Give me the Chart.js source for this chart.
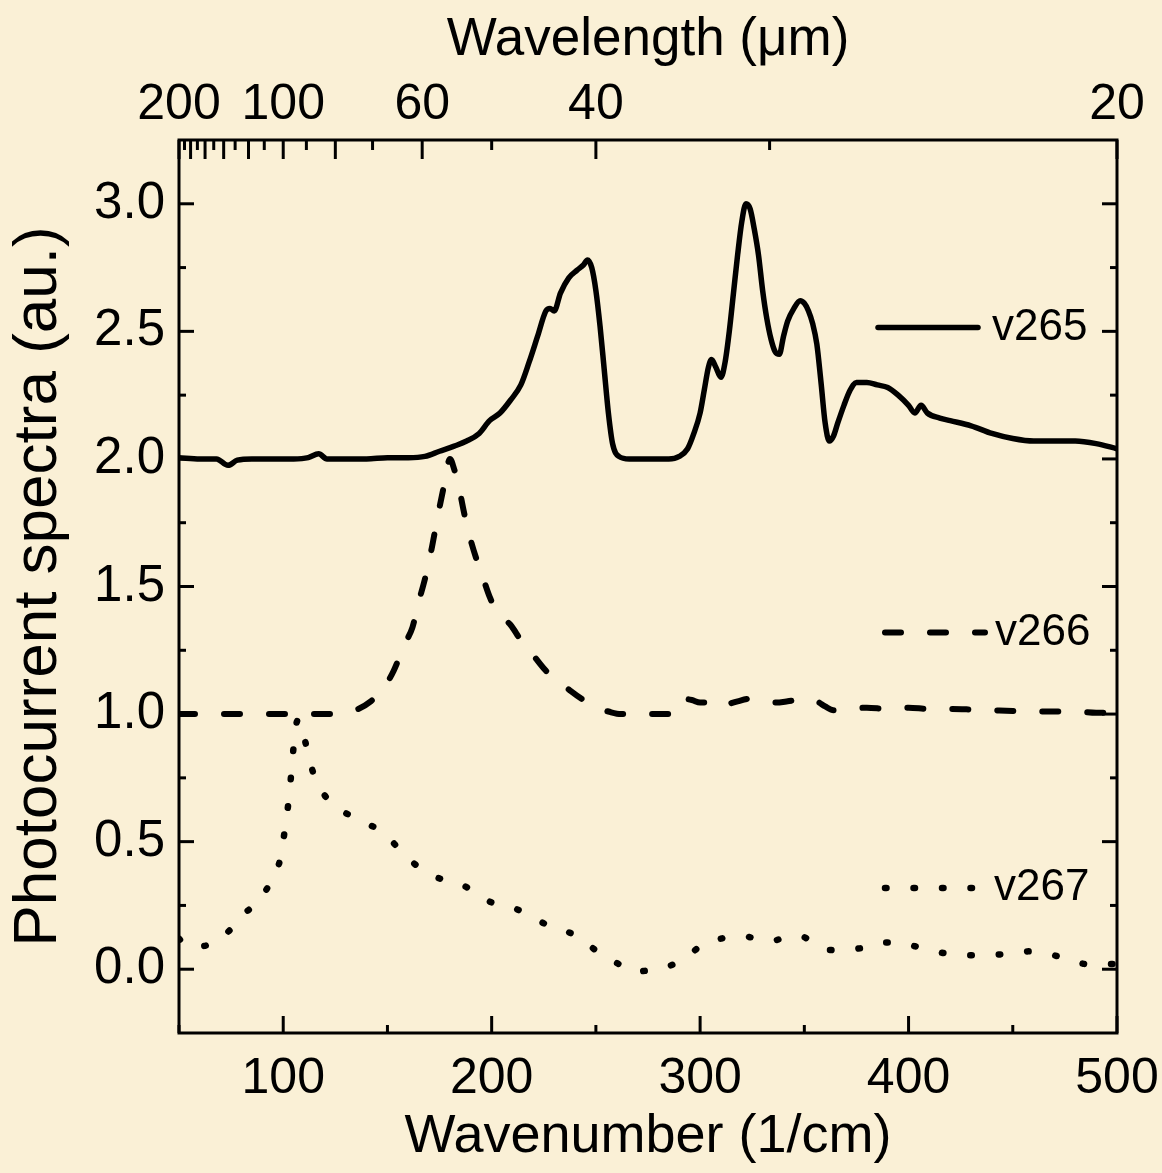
<!DOCTYPE html>
<html><head><meta charset="utf-8">
<script src="https://cdn.jsdelivr.net/npm/chart.js@4.4.1/dist/chart.umd.min.js"></script>
<style>
html,body{margin:0;padding:0;background:#FAF0D6;}
canvas{display:block;}
</style></head>
<body>
<canvas id="c" width="1162" height="1173"></canvas>
<script>
// ---------- data ----------
const wn265 = [50,60,68,73.5,78,85,95,105,112,117,121,130,140,150,160,168,175,182,188,194,199,204,209,214,218,222,226,228,230,233,237,241,244,246,248,250,252,254,256,258,261,266,275,285,290,294,297,300,302,304,305.5,307.5,310,312,314,316,318,320,322,324,326,328,330,332,334,336,338,340,342,345,348,350,352,354,356,358,360,362,364,366,369,372,375,380,385,390,395,400,403,406,409,415,420,430,440,450,460,470,480,490,500];
const v265  = [2.005,2.0,2.0,1.975,1.995,2.0,2.0,2.0,2.005,2.02,2.0,2.0,2.0,2.005,2.005,2.01,2.03,2.05,2.07,2.10,2.15,2.18,2.23,2.29,2.38,2.48,2.58,2.59,2.58,2.65,2.71,2.74,2.76,2.78,2.75,2.66,2.52,2.35,2.18,2.06,2.01,2.0,2.0,2.0,2.01,2.04,2.10,2.18,2.27,2.36,2.39,2.36,2.32,2.38,2.5,2.65,2.8,2.93,3.0,2.98,2.9,2.8,2.66,2.55,2.47,2.42,2.41,2.48,2.54,2.59,2.62,2.61,2.58,2.53,2.45,2.3,2.14,2.07,2.09,2.14,2.21,2.27,2.30,2.30,2.29,2.28,2.25,2.21,2.18,2.21,2.18,2.16,2.15,2.13,2.10,2.08,2.07,2.07,2.07,2.06,2.04];

const wn266 = [50,60,70,80,90,100,110,120,130,136,142,148,153,158,162,165,168,171,174,177,180,182,184,187,190,193,196,199,202,205,209,214,220,226,232,238,244,250,256,262,270,280,287,290,292,296,300,306,310,314,318,324,330,336,342,350,356,360,364,370,380,390,400,410,420,430,440,450,460,470,480,490,500];
const v266  = [1.0,1.0,1.0,1.0,1.0,1.0,1.0,1.0,1.005,1.02,1.05,1.1,1.17,1.27,1.34,1.44,1.53,1.64,1.77,1.89,2.0,1.96,1.9,1.78,1.68,1.6,1.53,1.46,1.41,1.38,1.35,1.29,1.23,1.17,1.13,1.09,1.055,1.025,1.01,1.0,1.0,1.0,1.0,1.04,1.06,1.055,1.045,1.045,1.028,1.04,1.05,1.06,1.055,1.045,1.05,1.06,1.05,1.03,1.015,1.02,1.025,1.02,1.025,1.02,1.02,1.018,1.015,1.012,1.01,1.01,1.01,1.005,1.005];

const wn267 = [50,54,60,67,74,80,86,91,95,98.5,101,103,104.5,106,107.5,110,114,117,122,127,133,139,148,158,165,172,186,199,212,226,240,254,261,268,275,282,294,300,306,313,320,327,334,341,348,355,362,369,375,382,389,396,403,410,417,430,444,458,472,486,500];
const v267  = [0.12,0.09,0.09,0.105,0.15,0.21,0.25,0.30,0.36,0.43,0.56,0.69,0.83,0.95,0.98,0.91,0.78,0.72,0.66,0.625,0.60,0.575,0.535,0.45,0.40,0.365,0.33,0.265,0.235,0.176,0.133,0.05,0.02,-0.01,-0.005,0.003,0.05,0.09,0.11,0.125,0.13,0.12,0.11,0.125,0.13,0.10,0.075,0.078,0.08,0.09,0.105,0.105,0.09,0.075,0.063,0.055,0.058,0.07,0.05,0.02,0.02];

const seriesLabels = ['v265','v266','v267'];

// ---------- tick values ----------
const xMajorTicks = [100,200,300,400,500];
const xMinorTicks = [50,150,250,350,450];
const yMajorTicks = [0,0.5,1.0,1.5,2.0,2.5,3.0];
const yMinorTicks = [0.25,0.75,1.25,1.75,2.25,2.75];
const topLabelWavelengths = [200,100,60,40,20];           // µm
const topMajorWavelengths = [200,180,160,140,120,100,80,60,40,20];
const topMinorWavelengths = [190,170,150,130,110,90,70,50,30];

const FONT = '"Liberation Sans", Arial, Helvetica, sans-serif';
Chart.defaults.font.family = FONT;
Chart.defaults.color = '#000';

const toPts = (xs, ys) => xs.map((x,i)=>({x, y: ys[i]}));
const noPad = s => { s.paddingLeft = 0; s.paddingRight = 0; s.paddingTop = 0; s.paddingBottom = 0; };

const framePlugin = {
  id: 'frameTicks',
  afterDatasetsDraw(chart) {
    const {ctx, chartArea: a, scales} = chart;
    const x = scales.x, y = scales.y;
    ctx.save();
    ctx.strokeStyle = '#000';
    ctx.lineWidth = 3;
    ctx.lineCap = 'butt';
    const seg = (x1,y1,x2,y2)=>{ctx.beginPath();ctx.moveTo(x1,y1);ctx.lineTo(x2,y2);ctx.stroke();};
    xMajorTicks.forEach(v=>{const p=x.getPixelForValue(v); seg(p,a.bottom,p,a.bottom-17);});
    xMinorTicks.forEach(v=>{const p=x.getPixelForValue(v); seg(p,a.bottom,p,a.bottom-8);});
    topMajorWavelengths.forEach(l=>{const p=x.getPixelForValue(10000/l); seg(p,a.top,p,a.top+19);});
    topMinorWavelengths.forEach(l=>{const p=x.getPixelForValue(10000/l); seg(p,a.top,p,a.top+10);});
    yMajorTicks.forEach(v=>{const p=y.getPixelForValue(v); seg(a.left,p,a.left+15,p); seg(a.right,p,a.right-15,p);});
    yMinorTicks.forEach(v=>{const p=y.getPixelForValue(v); seg(a.left,p,a.left+7,p); seg(a.right,p,a.right-7,p);});
    ctx.strokeRect(a.left, a.top, a.right-a.left, a.bottom-a.top);
    ctx.restore();
  }
};

const legendPlugin = {
  id: 'inlineLegend',
  afterDatasetsDraw(chart, args, opts) {
    const {ctx, chartArea: a, scales: {y}} = chart;
    chart.data.datasets.forEach((ds,i)=>{
      const py = y.getPixelForValue(opts.yValues[i]);
      ctx.save();
      ctx.strokeStyle = ds.borderColor;
      ctx.lineWidth = ds.borderWidth;
      ctx.lineCap = ds.borderCapStyle || 'butt';
      ctx.setLineDash(ds.borderDash || []);
      ctx.beginPath();
      ctx.moveTo(a.right + opts.lineStart[i], py);
      ctx.lineTo(a.right + opts.lineEnd[i], py);
      ctx.stroke();
      ctx.setLineDash([]);
      ctx.fillStyle = '#000';
      ctx.font = opts.fontSize + 'px ' + FONT;
      ctx.textAlign = 'left';
      ctx.textBaseline = 'middle';
      ctx.fillText(ds.label, a.right + opts.textX[i], py);
      ctx.restore();
    });
  }
};

new Chart(document.getElementById('c'), {
  type: 'line',
  data: {
    datasets: [
      {label: seriesLabels[0], data: toPts(wn265, v265), borderColor:'#000', borderWidth:5.5,
       borderCapStyle:'round', borderJoinStyle:'round', pointRadius:0, cubicInterpolationMode:'monotone', xAxisID:'x', yAxisID:'y'},
      {label: seriesLabels[1], data: toPts(wn266, v266), borderColor:'#000', borderWidth:6,
       borderDash:[16,29], borderCapStyle:'round', borderJoinStyle:'round', pointRadius:0, cubicInterpolationMode:'monotone', xAxisID:'x', yAxisID:'y'},
      {label: seriesLabels[2], data: toPts(wn267, v267), borderColor:'#000', borderWidth:6.5,
       borderDash:[1.5,27], borderCapStyle:'round', borderJoinStyle:'round', pointRadius:0, cubicInterpolationMode:'monotone', xAxisID:'x', yAxisID:'y'}
    ]
  },
  options: {
    responsive: false,
    devicePixelRatio: 1,
    animation: false,
    layout: {padding: {left:0, right:45, top:0, bottom:0}},
    plugins: {
      legend: {display:false},
      tooltip: {enabled:false},
      inlineLegend: {
        yValues: [2.515, 1.32, 0.318],
        lineStart: [-239, -232, -232],
        lineEnd:   [-139, -132, -144],
        textX:     [-125, -122, -123],
        fontSize: 44
      }
    },
    scales: {
      x: {
        type:'linear', position:'bottom', min:50, max:500,
        grid:{display:false, drawTicks:false}, border:{display:false},
        afterBuildTicks: s => { s.ticks = xMajorTicks.map(v=>({value:v})); },
        afterFit: s => { s.height = 140; noPad(s); },
        ticks:{font:{size:50}, padding:16, maxRotation:0, autoSkip:false, callback: v => String(v)},
        title:{display:true, text:'Wavenumber (1/cm)', font:{size:54}, padding:{top:0,bottom:3}}
      },
      x2: {
        type:'linear', position:'top', min:50, max:500,
        grid:{display:false, drawTicks:false}, border:{display:false},
        afterBuildTicks: s => { s.ticks = topLabelWavelengths.map(l=>({value:10000/l})); },
        afterFit: s => { s.height = 140; noPad(s); },
        ticks:{font:{size:50}, padding:5, maxRotation:0, autoSkip:false, callback: v => String(Math.round(10000/v))},
        title:{display:true, text:'Wavelength (\u03BCm)', font:{size:53}, padding:{top:9,bottom:0}}
      },
      y: {
        type:'linear', position:'left', min:-0.25, max:3.25,
        grid:{display:false, drawTicks:false}, border:{display:false},
        afterBuildTicks: s => { s.ticks = yMajorTicks.map(v=>({value:v})); },
        afterFit: s => { s.width = 179; noPad(s); },
        ticks:{font:{size:51}, padding:14, callback: v => v.toFixed(1)},
        title:{display:true, text:'Photocurrent spectra (au.)', font:{size:62}, padding:{top:2,bottom:0}}
      }
    }
  },
  plugins: [framePlugin, legendPlugin]
});
</script>
</body></html>
